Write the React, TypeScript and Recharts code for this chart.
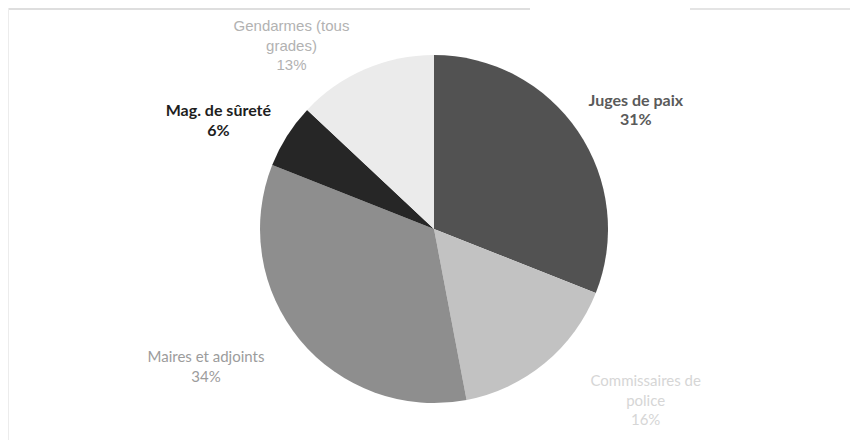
import React from "react";
import { PieChart, Pie, Cell } from "recharts";

const CATEGORIES = ["Juges de paix", "Commissaires de police", "Maires et adjoints", "Mag. de sûreté", "Gendarmes (tous grades)"];
const VALUES = [31, 16, 34, 6, 13];
const LABEL_LINES = [["Juges de paix"], ["Commissaires de", "police"], ["Maires et adjoints"], ["Mag. de sûreté"], ["Gendarmes (tous", "grades)"]];

const SLICE_COLORS = ["#525252", "#c2c2c2", "#8e8e8e", "#262626", "#ebebeb"];
const LABEL_COLORS = ["#5a5a5a", "#d6d6d6", "#9c9c9c", "#1e1e1e", "#b2b2b2"];
const LABEL_BOLD = [true, false, false, true, false];
const LABEL_FONT = ["Lato", "Lato", "Lato", "Lato", "Liberation Sans"];
const LABEL_SIZE = [16, 15, 15, 16, 15];
const LABEL_ANGLE_SHIFT = [-3.4, 11.5, -8.6, 5.4, 14.3];
const LABEL_EXTRA_R = [61, 98, 92, 68, 59];

const data = CATEGORIES.map((name, i) => ({ name, value: VALUES[i] }));
const total = VALUES.reduce((a, b) => a + b, 0);

const RAD = Math.PI / 180;

const renderLabel = (props: any) => {
  const { cx, cy, midAngle, outerRadius, index } = props;
  const ang = (midAngle + LABEL_ANGLE_SHIFT[index]) * RAD;
  const r = outerRadius + LABEL_EXTRA_R[index];
  const x = cx + r * Math.cos(ang);
  const y = cy - r * Math.sin(ang);
  const lines = [...LABEL_LINES[index], `${Math.round((VALUES[index] / total) * 100)}%`];
  const lh = 19.5;
  const y0 = y - ((lines.length - 1) * lh) / 2;
  return (
    <text
      x={x}
      y={y0}
      textAnchor="middle"
      dominantBaseline="central"
      fill={LABEL_COLORS[index]}
      fontFamily={LABEL_FONT[index]}
      fontWeight={LABEL_BOLD[index] ? 700 : 400}
      fontSize={LABEL_SIZE[index]}
    >
      {lines.map((l, k) => (
        <tspan key={k} x={x} dy={k === 0 ? 0 : lh}>
          {l}
        </tspan>
      ))}
    </text>
  );
};

export default function App() {
  return (
    <div style={{ position: "absolute", left: 0, top: 0, width: 853, height: 443, background: "#ffffff" }}>
      <div style={{ position: "absolute", left: 8, top: 8, width: 522, height: 0, borderTop: "2px solid #dedede" }} />
      <div style={{ position: "absolute", left: 690, top: 8, width: 160, height: 0, borderTop: "2px solid #e4e4e4" }} />
      <div style={{ position: "absolute", left: 8, top: 8, width: 0, height: 432, borderLeft: "1px solid #ececec" }} />
      <div style={{ position: "absolute", left: 0, top: 0 }}>
        <PieChart width={853} height={443} margin={{ top: 0, right: 0, bottom: 0, left: 0 }}>
          <Pie
            data={data}
            dataKey="value"
            nameKey="name"
            cx={434}
            cy={229}
            outerRadius={174}
            startAngle={90}
            endAngle={-270}
            stroke="none"
            label={renderLabel}
            labelLine={false}
            isAnimationActive={false}
          >
            {data.map((d, i) => (
              <Cell key={d.name} fill={SLICE_COLORS[i]} />
            ))}
          </Pie>
        </PieChart>
      </div>
    </div>
  );
}
